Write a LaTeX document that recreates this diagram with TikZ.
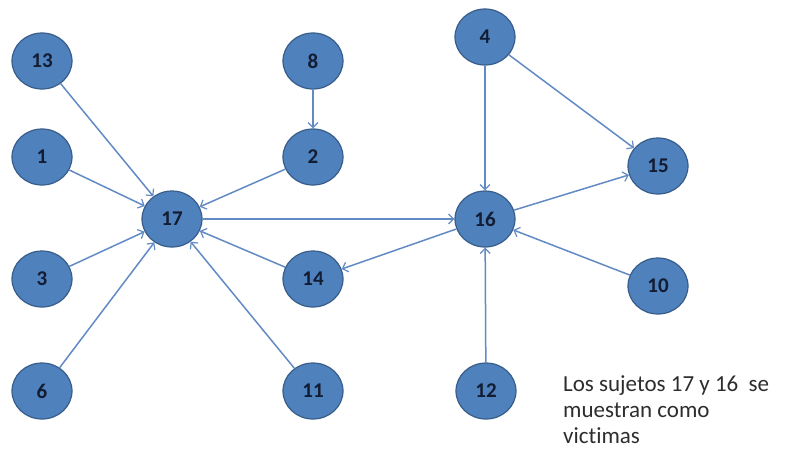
\documentclass[tikz,border=0pt]{standalone}
\usepackage{fontspec}
\setmainfont{Carlito}[Ligatures=NoCommon]
\usetikzlibrary{arrows.meta,shapes.geometric}
\definecolor{nodefill}{RGB}{79,129,189}
\definecolor{nodeline}{RGB}{56,93,138}
\definecolor{edgecol}{RGB}{98,138,196}
\definecolor{labcol}{RGB}{18,28,50}
\definecolor{txtcol}{RGB}{45,45,45}
\begin{document}
\begin{tikzpicture}[x=1pt,y=-1pt,
  person/.style={ellipse, draw=nodeline, line width=1.2pt, fill=nodefill,
    minimum width=60pt, minimum height=56pt, inner sep=0pt,
    font=\fontsize{21}{21}\selectfont\bfseries, text=labcol},
  edge/.style={draw=edgecol, line width=1.5pt,
    -{Straight Barb[length=5pt,width=10pt,line width=1.2pt]}}]
\useasboundingbox (0,0) rectangle (785,459);
\node[person] (n13) at (42,61) {13};
\node[person] (n8) at (313,61) {8};
\node[person] (n4) at (485,37) {4};
\node[person] (n1) at (42,157) {1};
\node[person] (n2) at (313,157) {2};
\node[person] (n15) at (658,166) {15};
\node[person] (n17) at (172,219) {17};
\node[person] (n16) at (485,219) {16};
\node[person] (n3) at (42,279) {3};
\node[person] (n14) at (313,279) {14};
\node[person] (n10) at (658,286) {10};
\node[person] (n6) at (42,391) {6};
\node[person] (n11) at (313,391) {11};
\node[person] (n12) at (486,391) {12};
\draw[edge] (n13) -- (n17);
\draw[edge] (n1) -- (n17);
\draw[edge] (n3) -- (n17);
\draw[edge] (n6) -- (n17);
\draw[edge] (n2) -- (n17);
\draw[edge] (n8) -- (n2);
\draw[edge] (n14) -- (n17);
\draw[edge] (n11) -- (n17);
\draw[edge] (n17) -- (n16);
\draw[edge] (n16) -- (n14);
\draw[edge] (n4) -- (n16);
\draw[edge] (n4) -- (n15);
\draw[edge] (n16) -- (n15);
\draw[edge] (n10) -- (n16);
\draw[edge] (n12) -- (n16);
\node[anchor=north west, align=left, text=txtcol, inner sep=0pt,
  font=\fontsize{23}{26}\selectfont] (note) at (563,375)
  {Los sujetos 17 y 16\ \ se\\muestran como\\victimas};
\end{tikzpicture}
\end{document}
